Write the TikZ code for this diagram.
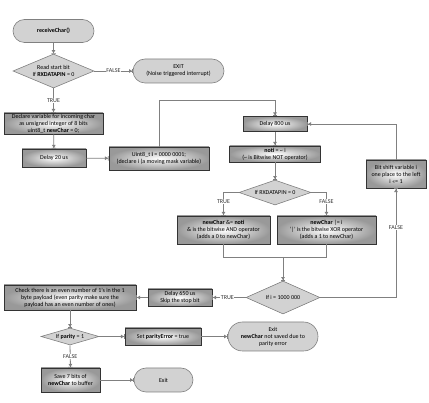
\documentclass[tikz,border=0pt]{standalone}
\usepackage{fontspec}
\setmainfont{Carlito}
\usetikzlibrary{arrows.meta,shapes.geometric,shapes.misc,shadows}
\definecolor{lnc}{HTML}{808080}
\definecolor{termfill}{HTML}{D2D2D2}
\tikzset{
  every node/.style={font=\fontsize{6}{7}\selectfont, align=center, inner sep=0pt},
  procbox/.style={rectangle, draw=black!80, line width=0.9pt, inner color=white, outer color=black!40,
    drop shadow={shadow xshift=0.8pt, shadow yshift=-0.8pt, opacity=0.4}},
  term/.style={rounded rectangle, draw=lnc, line width=0.6pt, fill=termfill},
  dec/.style={diamond, draw=lnc, line width=0.6pt, fill=termfill},
  conn/.style={draw=lnc, line width=0.8pt},
  arr/.style={conn, -{Triangle[length=3pt,width=3.5pt]Bar[width=4.5pt,line width=0.6pt]}},
  lbl/.style={fill=white, inner sep=0.6pt, text=black!80},
}
\begin{document}
\begin{tikzpicture}[x=1pt,y=-1pt]
\useasboundingbox (0,0) rectangle (429,403);
% nodes
\node[term, minimum width=81pt, minimum height=23pt] (start) at (53.5,31) {\textbf{receiveChar()}};
\node[dec, minimum width=81pt, minimum height=34pt] (d1) at (53.5,71) {};
\node (d1t) at (d1.center) {Read start bit\\If \textbf{RXDATAPIN} = 0};
\node[term, minimum width=91pt, minimum height=24pt] (exit1) at (178.5,71) {EXIT\\(Noise triggered interrupt)};
\node[procbox, minimum width=99pt, minimum height=21pt] (declare) at (53.5,123.5) {Declare variable for incoming char\\as unsigned integer of 8 bits\\uint8\_t \textbf{newChar} = 0;};
\node[procbox, minimum width=64pt, minimum height=18pt] (delay20) at (54,158) {Delay 20 us};
\node[procbox, minimum width=100pt, minimum height=23pt] (uint) at (159,158.5) {Uint8\_t \textbf{i} = 0000 0001;\\(declare i (a moving mask variable)};
\node[procbox, minimum width=64pt, minimum height=15pt] (delay800) at (275,124) {Delay 800 us};
\node[procbox, minimum width=91pt, minimum height=16pt] (noti) at (275,154) {\textbf{noti} = \textasciitilde{} i\\(\textasciitilde{} is Bitwise NOT operator)};
\node[dec, minimum width=72pt, minimum height=25pt] (d2) at (275,192.5) {};
\node (d2t) at (d2.center) {If RXDATAPIN = 0};
\node[procbox, minimum width=93pt, minimum height=28pt] (andbox) at (223.5,230) {\textbf{newChar} \&= \textbf{noti}\\\& is the bitwise AND operator\\(adds a 0 to newChar)};
\node[procbox, minimum width=99pt, minimum height=28pt] (orbox) at (326.5,230) {\textbf{newChar} |= i\\`|' is the bitwise XOR operator\\(adds a 1 to newChar)};
\node[dec, minimum width=74pt, minimum height=33pt] (d3) at (283,297.5) {};
\node (d3t) at (d3.center) {If i = 1000 000};
\node[procbox, minimum width=60pt, minimum height=28pt] (bitshift) at (396,174) {Bit shift variable i\\one place to the left\\i <<= 1};
\node[procbox, minimum width=64pt, minimum height=17pt] (delay650) at (180,297.5) {Delay 650 us\\Skip the stop bit};
\node[procbox, minimum width=132pt, minimum height=25pt] (check) at (70,297.5) {Check there is an even number of 1's in the 1\\byte payload (even parity make sure the\\payload has an even number of ones)};
\node[dec, minimum width=58pt, minimum height=17pt] (d4) at (70,336.5) {};
\node (d4t) at (d4.center) {If \textbf{parity} = 1};
\node[procbox, minimum width=76pt, minimum height=17pt] (seterr) at (163,336.5) {Set \textbf{parityError} = true};
\node[term, minimum width=90pt, minimum height=29pt] (exit2) at (273,336.5) {Exit\\\textbf{newChar} not saved due to\\parity error};
\node[procbox, minimum width=59pt, minimum height=24pt] (save) at (70.5,380) {Save 7 bits of\\\textbf{newChar} to buffer};
\node[term, minimum width=59pt, minimum height=24pt] (exit3) at (163.5,380) {Exit};
% helper coordinates
\coordinate (c1) at (159,100);
\coordinate (m1) at (223.5,257);
\coordinate (m2) at (326.5,257);
\coordinate (mm) at (283,257);
% connectors
\draw[arr] (start) -- (d1);
\draw[arr] (d1.east) -- node[lbl]{FALSE} (exit1.west);
\draw[arr] (d1.south) -- node[lbl]{TRUE} (declare.north);
\draw[arr] (declare) -- (delay20);
\draw[arr] (delay20) -- (uint);
\draw[arr] (uint.north) -- (c1) -| (delay800.north);
\draw[arr] (delay800) -- (noti);
\draw[arr] (noti) -- (d2);
\draw[arr] (d2.west) -| node[lbl, pos=0.7]{TRUE} (andbox.north);
\draw[arr] (d2.east) -| node[lbl, pos=0.7]{FALSE} (orbox.north);
\draw[conn] (andbox.south) -- (m1) -- (m2) -- (orbox.south);
\draw[arr] (mm) -- (d3.north);
\draw[arr] (d3.east) -| node[lbl, pos=0.82]{FALSE} (bitshift.south);
\draw[arr] (bitshift.north) |- (delay800.east);
\draw[arr] (d3.west) -- node[lbl, pos=0.55]{TRUE} (delay650.east);
\draw[arr] (delay650) -- (check);
\draw[arr] (check) -- (d4);
\draw[arr] (d4.east) -- (seterr.west);
\draw[arr] (seterr.east) -- (exit2.west);
\draw[arr] (d4.south) -- node[lbl]{FALSE} (save.north);
\draw[arr] (save.east) -- (exit3.west);
\end{tikzpicture}
\end{document}
